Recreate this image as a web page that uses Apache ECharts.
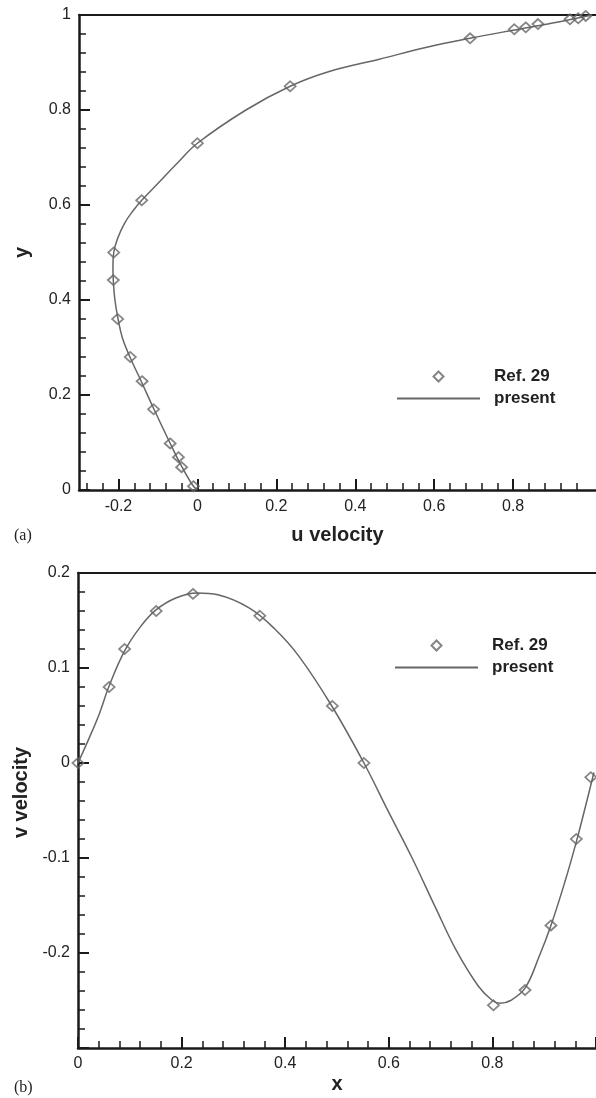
<!DOCTYPE html>
<html>
<head>
<meta charset="utf-8">
<script src="https://cdn.jsdelivr.net/npm/echarts@6/dist/echarts.min.js"></script>
<style>
html, body { margin: 0; padding: 0; background: #fff; }
#chart { width: 596px; height: 1098px; }
</style>
</head>
<body>
<div id="chart"></div>
<script>
// (a) u velocity along the vertical centreline: reference points and present solution
const refU = [0.984, 0.965, 0.944, 0.863, 0.832, 0.803, 0.691, 0.235, 0.0, -0.141, -0.212, -0.213, -0.202, -0.170, -0.140, -0.111, -0.069, -0.048, -0.040, -0.010];
const refY = [0.998, 0.993, 0.991, 0.981, 0.974, 0.970, 0.951, 0.850, 0.730, 0.610, 0.500, 0.442, 0.360, 0.280, 0.229, 0.170, 0.098, 0.069, 0.048, 0.008];
const presentU = [0, -0.012, -0.040, -0.070, -0.110, -0.143, -0.171, -0.190, -0.201, -0.209, -0.213, -0.214, -0.212, -0.202, -0.185, -0.163, -0.141, -0.096, -0.050, 0.0, 0.123, 0.235, 0.334, 0.461, 0.587, 0.691, 0.800, 0.900, 1.0];
const presentY = [0, 0.010, 0.050, 0.100, 0.170, 0.230, 0.280, 0.320, 0.360, 0.400, 0.440, 0.470, 0.500, 0.530, 0.561, 0.588, 0.610, 0.649, 0.689, 0.730, 0.800, 0.850, 0.881, 0.907, 0.933, 0.951, 0.968, 0.983, 1.0];

// (b) v velocity along the horizontal centreline
const refX = [0.0, 0.060, 0.090, 0.151, 0.222, 0.351, 0.491, 0.552, 0.802, 0.863, 0.913, 0.962, 0.990];
const refV = [0.0, 0.080, 0.120, 0.160, 0.178, 0.155, 0.060, 0.0, -0.255, -0.239, -0.171, -0.080, -0.015];
const presentX = [0, 0.023, 0.042, 0.060, 0.090, 0.120, 0.150, 0.190, 0.230, 0.270, 0.331, 0.380, 0.427, 0.490, 0.552, 0.600, 0.645, 0.690, 0.730, 0.773, 0.800, 0.815, 0.835, 0.863, 0.890, 0.913, 0.940, 0.962, 0.980, 0.996];
const presentV = [0, 0.028, 0.053, 0.081, 0.118, 0.143, 0.161, 0.174, 0.179, 0.177, 0.163, 0.141, 0.112, 0.060, 0.0, -0.052, -0.100, -0.152, -0.197, -0.235, -0.250, -0.253, -0.250, -0.237, -0.204, -0.171, -0.125, -0.083, -0.045, -0.010];

// tick positions for the u axis (its range starts at -0.3)
const uMajorTicks = [-0.2, 0, 0.2, 0.4, 0.6, 0.8];
const uMinorTicks = [-0.28, -0.24, -0.16, -0.12, -0.08, -0.04, 0.04, 0.08, 0.12, 0.16, 0.24, 0.28, 0.32, 0.36, 0.44, 0.48, 0.52, 0.56, 0.64, 0.68, 0.72, 0.76, 0.84, 0.88, 0.92, 0.96];

const seriesNames = ['Ref. 29', 'present'];

const zip = (a, b) => a.map((v, i) => [v, b[i]]);
const fmt = v => String(+(+v).toFixed(2));

const INK = '#1a1a1a';
const TEXT = '#222';
const CURVE = '#666';
const FONT = 'Liberation Sans, Arial, Helvetica, sans-serif';

const tickLabel = { color: TEXT, fontFamily: FONT, fontSize: 16, formatter: fmt };
const axisLine = { show: true, onZero: false, lineStyle: { color: INK, width: 2.5 } };
const majorTick = { show: true, inside: true, length: 11, lineStyle: { color: INK, width: 2 } };
const minorTick = { show: true, splitNumber: 5, length: 7, lineStyle: { color: INK, width: 1.5 } };
const nameStyle = { color: TEXT, fontFamily: FONT, fontSize: 20, fontWeight: 'bold' };

function frameTop(gridIndex, min, max) {
  return {
    type: 'value', gridIndex, position: 'top', min, max,
    axisLine: { show: true, onZero: false, lineStyle: { color: INK, width: 2 } },
    axisTick: { show: false }, axisLabel: { show: false }, splitLine: { show: false }
  };
}

function legendAt(left, top) {
  return {
    left, top, orient: 'vertical', padding: 0, itemGap: 5,
    itemWidth: 83, itemHeight: 10, selectedMode: false,
    data: [
      { name: seriesNames[0], icon: 'path://M0,-1L1,0L0,1L-1,0Z' },
      { name: seriesNames[1], itemStyle: { color: 'rgba(0,0,0,0)', borderColor: 'rgba(0,0,0,0)', borderWidth: 0, opacity: 0 } }
    ],
    textStyle: { color: TEXT, fontFamily: FONT, fontSize: 17, fontWeight: 'bold', padding: [0, 0, 0, 9] }
  };
}

const refStyle = {
  type: 'scatter', symbol: 'diamond', symbolSize: [11, 10], z: 4,
  itemStyle: { color: 'rgba(255,255,255,0)', borderColor: CURVE, borderWidth: 1.8 }
};
const lineStyle = {
  type: 'line', symbol: 'none', smooth: 0.4, z: 3,
  itemStyle: { color: CURVE },
  lineStyle: { color: CURVE, width: 1.5 }
};

const chart = echarts.init(document.getElementById('chart'), null, { renderer: 'canvas' });
chart.setOption({
  animation: false,
  backgroundColor: '#fff',
  title: [
    { text: '(a)', left: 9, top: 523, textStyle: { fontFamily: 'Liberation Serif, serif', fontSize: 16, fontWeight: 'normal', color: TEXT } },
    { text: '(b)', left: 9, top: 1075, textStyle: { fontFamily: 'Liberation Serif, serif', fontSize: 16, fontWeight: 'normal', color: TEXT } }
  ],
  legend: [legendAt(396, 368), legendAt(394, 637)],
  grid: [
    { left: 79, top: 15, width: 517.5, height: 475 },
    { left: 78, top: 573, width: 520, height: 475 }
  ],
  xAxis: [
    {
      type: 'value', gridIndex: 0, position: 'bottom', min: -0.3, max: 1.01,
      name: 'u velocity', nameLocation: 'middle', nameGap: 35, nameTextStyle: nameStyle,
      axisLine,
      axisTick: Object.assign({}, majorTick, { customValues: uMajorTicks }),
      axisLabel: Object.assign({}, tickLabel, { customValues: uMajorTicks, margin: 9 }),
      splitLine: { show: false }
    },
    {
      type: 'value', gridIndex: 0, position: 'bottom', min: -0.3, max: 1.01,
      axisLine: { show: false, onZero: false },
      axisTick: { show: true, inside: true, length: 7, customValues: uMinorTicks, lineStyle: { color: INK, width: 1.5 } },
      axisLabel: { show: false }, splitLine: { show: false }
    },
    frameTop(0, -0.3, 1.01),
    {
      type: 'value', gridIndex: 1, position: 'bottom', min: 0, max: 1, interval: 0.2,
      name: 'x', nameLocation: 'middle', nameGap: 26, nameTextStyle: nameStyle,
      axisLine, axisTick: majorTick, minorTick,
      axisLabel: Object.assign({}, tickLabel, { showMaxLabel: false, margin: 8 }),
      splitLine: { show: false }, minorSplitLine: { show: false }
    },
    frameTop(1, 0, 1)
  ],
  yAxis: [
    {
      type: 'value', gridIndex: 0, min: 0, max: 1, interval: 0.2,
      name: 'y', nameLocation: 'middle', nameGap: 47, nameRotate: 90, nameTextStyle: nameStyle,
      axisLine, axisTick: majorTick, minorTick,
      axisLabel: Object.assign({}, tickLabel, { margin: 8 }),
      splitLine: { show: false }, minorSplitLine: { show: false }
    },
    {
      type: 'value', gridIndex: 1, min: -0.3, max: 0.2, interval: 0.1,
      name: 'v velocity', nameLocation: 'middle', nameGap: 47, nameRotate: 90,
      nameTextStyle: Object.assign({}, nameStyle, { padding: [0, 0, 0, 36] }),
      axisLine, axisTick: majorTick, minorTick,
      axisLabel: Object.assign({}, tickLabel, { showMinLabel: false, margin: 8 }),
      splitLine: { show: false }, minorSplitLine: { show: false }
    }
  ],
  series: [
    Object.assign({}, lineStyle, { name: seriesNames[1], xAxisIndex: 0, yAxisIndex: 0, data: zip(presentU, presentY) }),
    Object.assign({}, refStyle, { name: seriesNames[0], xAxisIndex: 0, yAxisIndex: 0, data: zip(refU, refY) }),
    Object.assign({}, lineStyle, { name: seriesNames[1], xAxisIndex: 3, yAxisIndex: 1, data: zip(presentX, presentV) }),
    Object.assign({}, refStyle, { name: seriesNames[0], xAxisIndex: 3, yAxisIndex: 1, data: zip(refX, refV) })
  ]
});
</script>
</body>
</html>
